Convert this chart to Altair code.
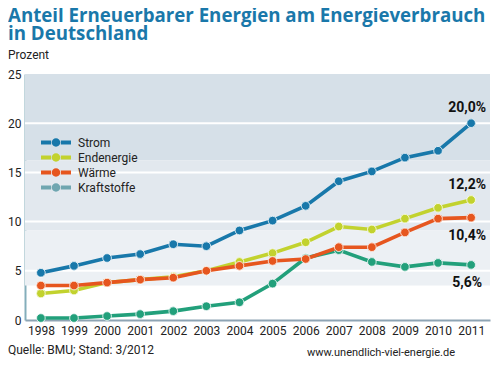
import altair as alt
import pandas as pd

years = list(range(1998, 2012))
series = ["Strom", "Endenergie", "Wärme", "Kraftstoffe"]
strom = [4.8, 5.5, 6.3, 6.7, 7.7, 7.5, 9.1, 10.1, 11.6, 14.1, 15.1, 16.5, 17.2, 20.0]
endenergie = [2.7, 3.0, 3.8, 4.1, 4.4, 5.0, 5.9, 6.8, 7.9, 9.5, 9.2, 10.3, 11.4, 12.2]
waerme = [3.5, 3.5, 3.8, 4.1, 4.3, 5.0, 5.5, 6.0, 6.2, 7.4, 7.4, 8.9, 10.3, 10.4]
kraftstoffe = [0.2, 0.2, 0.4, 0.6, 0.9, 1.4, 1.8, 3.7, 6.3, 7.1, 5.9, 5.4, 5.8, 5.6]
end_labels = ["20,0%", "12,2%", "10,4%", "5,6%"]
line_colors = {"Strom": "#1878aa", "Endenergie": "#c2d22e", "Wärme": "#e6561f", "Kraftstoffe": "#22a07b"}
legend_colors = ["#1878aa", "#c2d22e", "#e6561f", "#6fa6b0"]
band_lo = [16.2, 9.1, 3.5]
band_hi = [25, 16.2, 9.1]
band_colors = ["#d6e0e8", "#e2e8ee", "#ecf0f4"]
grid_vals = [5, 10, 15, 20]

values = {"Strom": strom, "Endenergie": endenergie, "Wärme": waerme, "Kraftstoffe": kraftstoffe}
rows = []
for s in series:
    for y, v in zip(years, values[s]):
        rows.append({"Jahr": y, "Serie": s, "Wert": v})
df = pd.DataFrame(rows)

FONT = "Roboto"
TFONT = "Open Sans"
xscale = alt.Scale(domain=[1997.52, 2011.57], nice=False, zero=False)
yscale = alt.Scale(domain=[0, 25], nice=False)

bands = alt.Chart(pd.DataFrame({"lo": band_lo, "hi": band_hi, "c": band_colors})).mark_rect().encode(
    x=alt.value(0), x2=alt.value(465),
    y=alt.Y("lo:Q", scale=yscale), y2="hi:Q",
    fill=alt.Fill("c:N", scale=None),
)
grid = alt.Chart(pd.DataFrame({"g": grid_vals})).mark_rule(color="white", strokeWidth=2).encode(
    y=alt.Y("g:Q", scale=yscale), x=alt.value(0), x2=alt.value(465)
)

base_x = alt.X("Jahr:Q", scale=xscale,
               axis=alt.Axis(values=years, format="d", title=None, ticks=False, grid=False,
                             domainColor="#8ea4b4", domainWidth=2, labelFont=FONT, labelFontSize=12,
                             labelColor="#222", labelPadding=5, labelFlush=False))
base_y = alt.Y("Wert:Q", scale=yscale,
               axis=alt.Axis(values=[0, 5, 10, 15, 20, 25], title=None, ticks=False, grid=False,
                             domainColor="#84aebb", domainWidth=2, labelFont=FONT, labelFontSize=12,
                             labelColor="#222", labelPadding=4))

layers = [bands, grid]

# legend-carrying points, drawn beneath the visible points
legend_layer = alt.Chart(df).mark_circle(size=75, opacity=1).encode(
    x=base_x, y=base_y,
    color=alt.Color("Serie:N", scale=alt.Scale(domain=series, range=legend_colors),
                    legend=alt.Legend(title=None, orient="none", legendX=16, legendY=61, zindex=1,
                                      symbolType="M-1,-0.13H-0.32V0.13H-1Z M0.32,-0.13H1V0.13H0.32Z M-0.28,0A0.28,0.28 0 1,1 0.28,0A0.28,0.28 0 1,1 -0.28,0Z",
                                      symbolSize=900, symbolOpacity=1, symbolStrokeWidth=0,
                                      clipHeight=15, rowPadding=0, labelOffset=7, padding=0,
                                      labelFont=FONT, labelFontSize=12, labelColor="#222")),
)
layers.append(legend_layer)

for s in ["Kraftstoffe", "Endenergie", "Wärme", "Strom"]:
    d = df[df.Serie == s]
    ln = alt.Chart(d).mark_line(strokeWidth=3.6, color=line_colors[s]).encode(x=base_x, y=base_y)
    pt = alt.Chart(d).mark_circle(size=75, opacity=1, color=line_colors[s], stroke="white",
                                  strokeWidth=0.8).encode(x=base_x, y=base_y)
    layers += [ln, pt]

last = pd.DataFrame({"Jahr": [2011] * 4, "Wert": [strom[-1], endenergie[-1], waerme[-1], kraftstoffe[-1]],
                     "lab": end_labels})
above = alt.Chart(last.iloc[:2]).mark_text(font=FONT, fontSize=14, fontWeight="bold", color="#111",
                                          dx=-4, dy=-15).encode(x=base_x, y=base_y, text="lab:N")
below = alt.Chart(last.iloc[2:]).mark_text(font=FONT, fontSize=14, fontWeight="bold", color="#111",
                                          dx=-4, dy=18).encode(x=base_x, y=base_y, text="lab:N")
layers += [above, below]

def txt(t, x, y, size, color="#222", weight="normal", align="left", font=FONT):
    return alt.Chart(pd.DataFrame({"t": [t]})).mark_text(
        font=font, fontSize=size, fontWeight=weight, color=color, align=align, baseline="alphabetic"
    ).encode(text="t:N", x=alt.value(x), y=alt.value(y))

layers += [
    txt("Anteil Erneuerbarer Energien am Energieverbrauch", -17, -52, 18.7, "#1a78aa", "bold", font=TFONT),
    txt("in Deutschland", -17, -34, 18.7, "#1a78aa", "bold", font=TFONT),
    txt("Prozent", -17, -15, 12),
    txt("Quelle: BMU; Stand: 3/2012", -17, 280, 12),
    txt("www.unendlich-viel-energie.de", 430, 282, 11, align="right"),
]

chart = alt.layer(*layers).properties(
    width=465, height=246,
    autosize=alt.AutoSizeParams(type="none"),
    padding={"left": 17, "top": 66, "right": 2, "bottom": 38},
).configure_view(strokeWidth=0, fill=None)

chart.save("out.html", embed_options={"renderer": "svg", "actions": False})
